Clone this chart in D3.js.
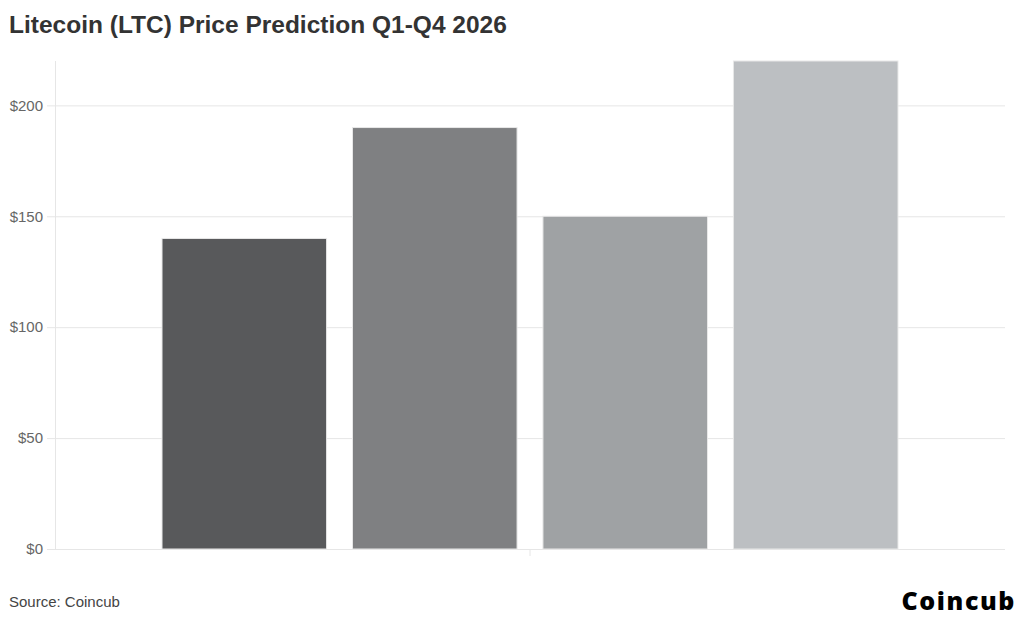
<!DOCTYPE html>
<html><head><meta charset="utf-8">
<script src="https://cdn.jsdelivr.net/npm/d3@7"></script>
<style>body{margin:0;background:#fff;}svg{display:block;}</style>
</head><body>
<script>
const categories = ["2026"];
const quarters = ["Q1", "Q2", "Q3", "Q4"];
const values = [140, 190, 150, 220];
const colors = ["#58595b", "#7f8082", "#9fa2a4", "#bcbfc2"];
const yTicks = [0, 50, 100, 150, 200];

(function () {
const W = 1024, H = 623;
const svg = d3.select("body").append("svg").attr("width", W).attr("height", H);
const mLeft = 55, mRight = 1005, mTop = 61, mBottom = 549;

const x0 = d3.scaleBand().domain(categories).range([mLeft, mRight]).paddingInner(0).paddingOuter(0.1454);
const x1 = d3.scaleBand().domain(quarters).range([0, x0.bandwidth()]).paddingInner(0.136);
const y = d3.scaleLinear().domain([0, 220]).range([mBottom, mTop]);

// gridlines + y axis
const yAxis = d3.axisLeft(y).tickValues(yTicks).tickFormat(d => "$" + d).tickSize(8).tickPadding(4);
const gy = svg.append("g").attr("transform", `translate(${mLeft},0)`).call(yAxis);
gy.select(".domain").attr("stroke", "#e6e6e6").attr("d", `M0.5,${mTop}V${mBottom}`);
gy.selectAll(".tick line").attr("stroke", "#e6e6e6");
gy.selectAll(".tick text").attr("fill", "#666").style("font", "15px 'Liberation Sans', Arial, sans-serif");
gy.selectAll(".tick").append("line").attr("x1", 0).attr("x2", mRight - mLeft).attr("stroke", "#e6e6e6");

// x axis (tick only)
const xAxis = d3.axisBottom(x0).tickSize(7).tickFormat("");
const gx = svg.append("g").attr("transform", `translate(0,${mBottom})`).call(xAxis);
gx.select(".domain").remove();
gx.selectAll(".tick line").attr("stroke", "#e6e6e6");

// bars
const g = svg.append("g").attr("transform", `translate(${x0(categories[0])},0)`);
g.selectAll("rect").data(quarters).join("rect")
  .attr("x", (d) => x1(d))
  .attr("y", (d, i) => y(values[i]))
  .attr("width", x1.bandwidth())
  .attr("height", (d, i) => y(0) - y(values[i]))
  .attr("fill", (d, i) => colors[i])
  .attr("stroke", "#e8e8e8").attr("stroke-width", 1);

// title
svg.append("text").attr("x", 9).attr("y", 33)
  .text("Litecoin (LTC) Price Prediction Q1-Q4 2026")
  .attr("fill", "#333").style("font", "bold 24.5px 'Liberation Sans', Arial, sans-serif");

svg.append("text").attr("x", 9).attr("y", 607)
  .text("Source: Coincub")
  .attr("fill", "#444").style("font", "15px 'Liberation Sans', Arial, sans-serif");

svg.append("text").attr("x", 1016).attr("y", 610).attr("text-anchor", "end")
  .text("Coincub")
  .attr("fill", "#000").style("font", "800 25px 'Open Sans', sans-serif")
  .style("letter-spacing", "1.6px");
})();
</script>
</body></html>
